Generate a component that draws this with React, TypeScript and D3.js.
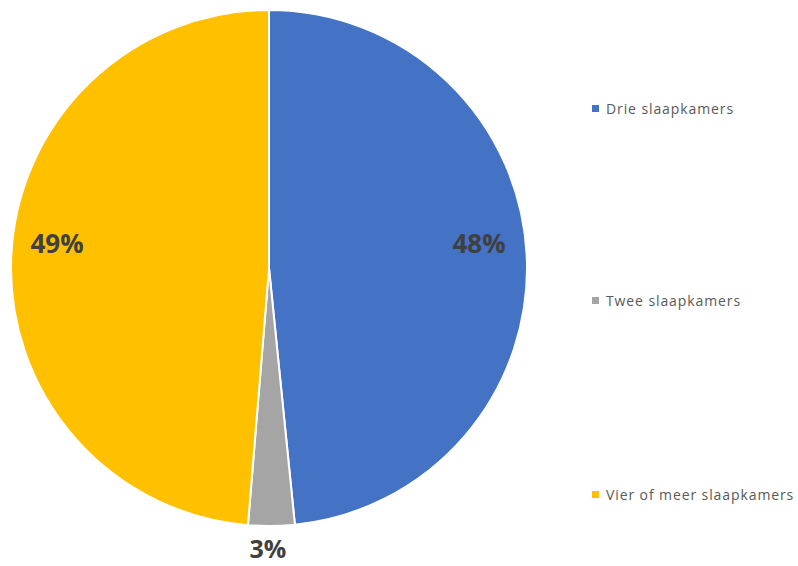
import React from "react";
import * as d3 from "d3";

const categories = ["Drie slaapkamers", "Twee slaapkamers", "Vier of meer slaapkamers"];
const values = [48.4, 2.9, 48.7];
const labels = ["48%", "3%", "49%"];
const colors = ["#4472C4", "#A5A5A5", "#FFC000"];

export default function App() {
  const W = 798, H = 566;
  const cx = 269, cy = 268, r = 258;
  const pie = d3.pie<number>().sort(null).value((d) => d)(values);
  const arc = d3.arc<d3.PieArcDatum<number>>().innerRadius(0).outerRadius(r);
  const labelPos = [
    [479, 253],
    [268, 558],
    [57, 253],
  ];
  const legendY = [109, 301, 495];
  return (
    <svg width={W} height={H} style={{ position: "absolute", left: 0, top: 0 }}>
      <rect width={W} height={H} fill="#fff" />
      <g transform={`translate(${cx},${cy})`}>
        {pie.map((p, i) => (
          <path key={i} d={arc(p) || ""} fill={colors[i]} stroke="#fff" strokeWidth={2} />
        ))}
      </g>
      {labels.map((l, i) => (
        <text
          key={i}
          x={labelPos[i][0]}
          y={labelPos[i][1]}
          textAnchor="middle"
          fontFamily="'Open Sans', sans-serif"
          fontWeight="bold"
          fontSize={i === 1 ? 25 : 26}
          fill="#404040"
        >
          {l}
        </text>
      ))}
      {categories.map((c, i) => (
        <g key={i}>
          <rect x={592} y={legendY[i] - 4} width={7} height={7} fill={colors[i]} />
          <text
            x={606}
            y={legendY[i] + 5}
            fontFamily="'Open Sans', sans-serif"
            fontSize={14}
            letterSpacing={0.9}
            fill="#595959"
          >
            {c}
          </text>
        </g>
      ))}
    </svg>
  );
}
